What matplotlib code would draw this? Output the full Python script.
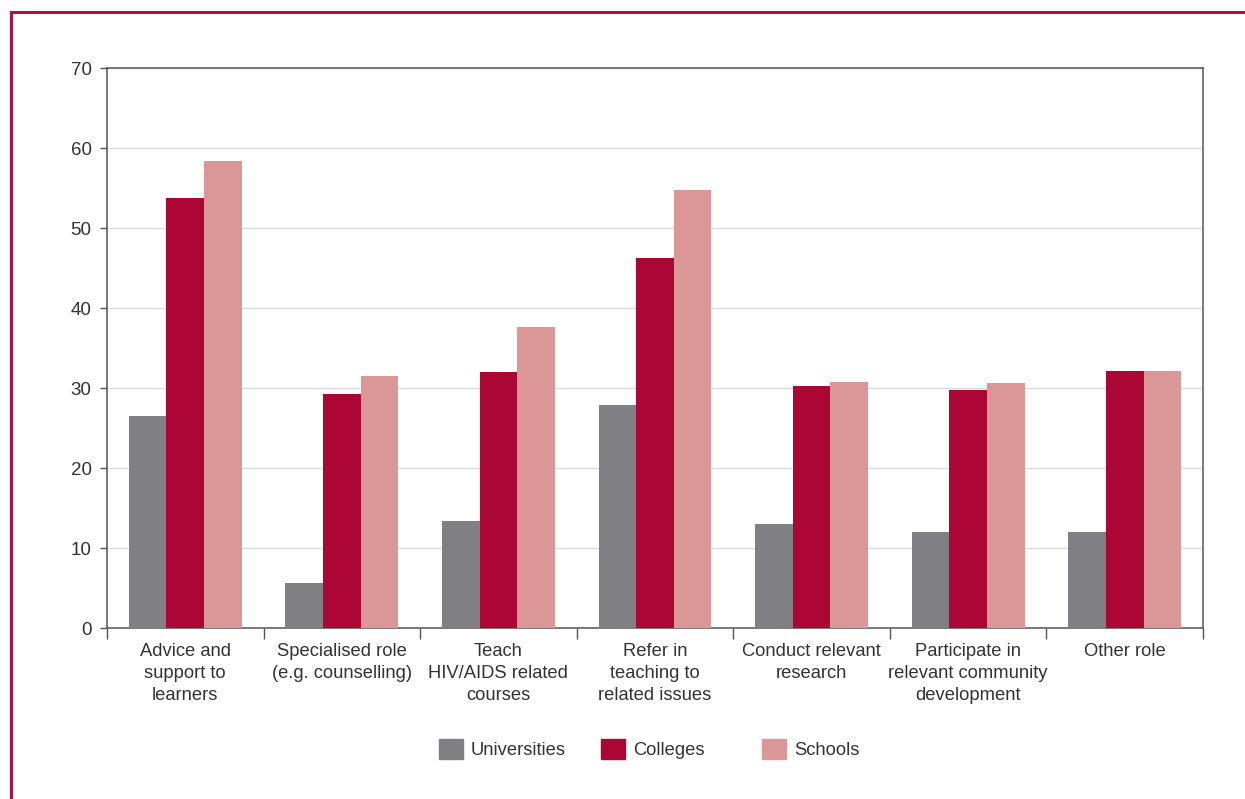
import matplotlib.pyplot as plt
import numpy as np
from matplotlib.lines import Line2D
from matplotlib.patches import Patch

plt.rcParams["font.family"] = ["Liberation Sans Narrow", "Liberation Sans", "DejaVu Sans"]

categories = [
    "Advice and\nsupport to\nlearners",
    "Specialised role\n(e.g. counselling)",
    "Teach\nHIV/AIDS related\ncourses",
    "Refer in\nteaching to\nrelated issues",
    "Conduct relevant\nresearch",
    "Participate in\nrelevant community\ndevelopment",
    "Other role",
]
universities = [26.5, 5.6, 13.4, 27.9, 13.0, 12.0, 12.0]
colleges = [53.8, 29.3, 32.0, 46.3, 30.3, 29.8, 32.1]
schools = [58.4, 31.5, 37.6, 54.8, 30.8, 30.6, 32.1]

series = [("Universities", universities, "#808084"),
          ("Colleges", colleges, "#AB0634"),
          ("Schools", schools, "#DB9795")]

text_col = "#333333"
spine_col = "#555555"

fig = plt.figure(figsize=(12.45, 7.99), dpi=100)
ax = fig.add_axes([0.0859, 0.214, 0.8804, 0.7008])

x = np.arange(len(categories))
w = 0.24
for i, (name, vals, col) in enumerate(series):
    ax.bar(x + (i - 1) * w, vals, width=w, color=col, zorder=3)

ax.set_xlim(-0.5, len(categories) - 0.5)
ax.set_ylim(0, 70)
ax.set_yticks(range(0, 71, 10))
ax.yaxis.grid(True, color="#d9d9d9", linewidth=0.9, zorder=0)

ax.set_xticks(x)
ax.set_xticklabels(categories, fontsize=13.2, color=text_col, linespacing=1.36)
ax.set_xticks(np.arange(-0.5, len(categories), 1), minor=True)
ax.tick_params(axis="x", which="major", length=0, pad=11)
ax.tick_params(axis="x", which="minor", length=8, color=spine_col, width=1)
ax.tick_params(axis="y", length=5, color=spine_col, width=1, labelsize=13.5,
               labelcolor=text_col, pad=6)

for s in ax.spines.values():
    s.set_color(spine_col)
    s.set_linewidth(1.1)

# legend entries placed individually
lx = [0.3526, 0.4827, 0.612]
for (name, vals, col), xpos in zip(series, lx):
    fig.legend(handles=[Patch(color=col, label=name)], loc="center left",
               bbox_to_anchor=(xpos, 0.0626), frameon=False, fontsize=13.2,
               handlelength=1.3, handleheight=1.3, handletextpad=0.45,
               borderpad=0, borderaxespad=0, labelcolor=text_col)

# red frame (top and left)
frame = "#B01040"
fig.add_artist(Line2D([0.0085, 1.0], [0.985, 0.985], color=frame, linewidth=2.2,
                      transform=fig.transFigure))
fig.add_artist(Line2D([0.0085, 0.0085], [0.0, 0.985], color=frame, linewidth=2.2,
                      transform=fig.transFigure))

fig.savefig("out.png", dpi=100)
